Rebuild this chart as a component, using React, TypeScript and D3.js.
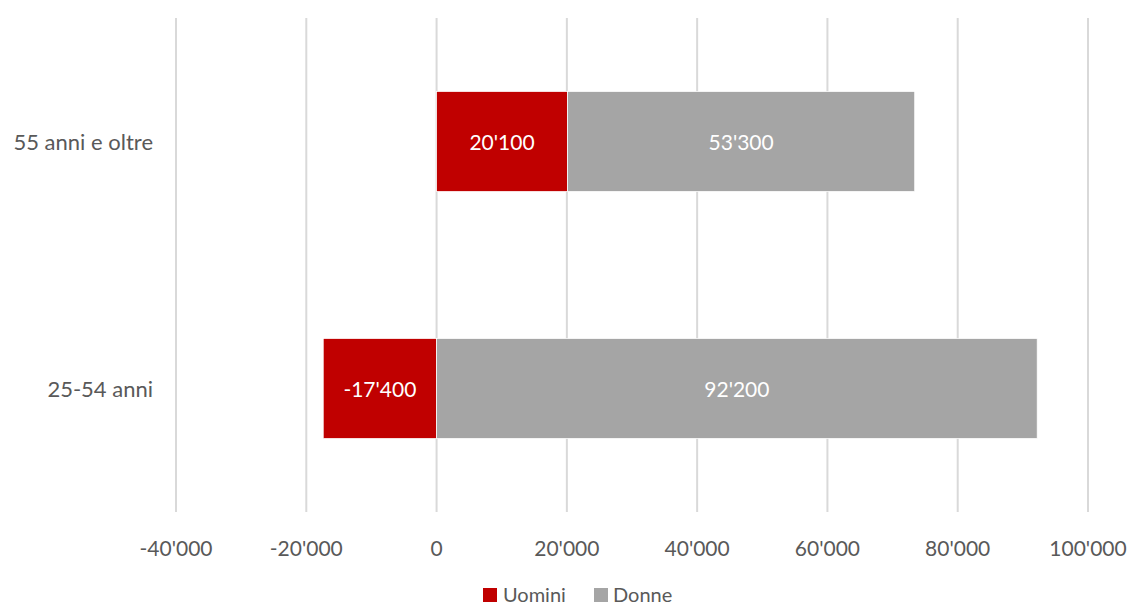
import React from "react";
import * as d3 from "d3";

const categories = ["55 anni e oltre", "25-54 anni"];
const uomini = [20100, -17400];
const donne = [53300, 92200];
const seriesNames = ["Uomini", "Donne"];
const seriesColors = ["#C00000", "#A5A5A5"];
const xTicks = [-40000, -20000, 0, 20000, 40000, 60000, 80000, 100000];

const W = 1129;
const H = 606;
const FONT = "Lato, 'Open Sans', sans-serif";

const fmt = (v: number) => {
  const s = Math.abs(v).toString().replace(/\B(?=(\d{3})+(?!\d))/g, "'");
  return (v < 0 ? "-" : "") + s;
};

export default function App() {
  const rows = categories.map((c, i) => ({ cat: c, Uomini: uomini[i], Donne: donne[i] }));
  const stacked = d3
    .stack<any>()
    .keys(seriesNames)
    .offset(d3.stackOffsetDiverging)(rows);

  const x = d3.scaleLinear().domain([-40000, 100000]).range([176, 1088]);
  const y = d3.scaleBand().domain(categories).range([18, 512]).paddingInner(0.595).paddingOuter(0.2975);

  return (
    <svg width={W} height={H} style={{ position: "absolute", left: 0, top: 0, background: "#fff" }}>
      {xTicks.map((t) => (
        <line key={t} x1={x(t)} x2={x(t)} y1={18} y2={512} stroke="#D9D9D9" strokeWidth={2} />
      ))}
      {stacked.map((s, si) =>
        s.map((d, i) => {
          const x0 = x(Math.min(d[0], d[1]));
          const x1 = x(Math.max(d[0], d[1]));
          const yy = y(categories[i])!;
          const v = si === 0 ? uomini[i] : donne[i];
          return (
            <g key={si + "-" + i}>
              <rect x={x0} y={yy} width={x1 - x0} height={y.bandwidth()} fill={seriesColors[si]} stroke="#fff" strokeWidth={0.75} />
              <text
                x={(x0 + x1) / 2}
                y={yy + y.bandwidth() / 2}
                textAnchor="middle"
                dominantBaseline="central"
                fill="#fff"
                fontFamily={FONT}
                fontSize={21}
              >
                {fmt(v)}
              </text>
            </g>
          );
        })
      )}
      {categories.map((c) => (
        <text
          key={c}
          x={153}
          y={y(c)! + y.bandwidth() / 2}
          textAnchor="end"
          dominantBaseline="central"
          fill="#595959"
          fontFamily={FONT}
          fontSize={22}
        >
          {c}
        </text>
      ))}
      {xTicks.map((t) => (
        <text key={"l" + t} x={x(t)} y={547} textAnchor="middle" dominantBaseline="central" fill="#595959" fontFamily={FONT} fontSize={21}>
          {fmt(t)}
        </text>
      ))}
      <g>
        <rect x={483} y={588} width={14} height={14} fill={seriesColors[0]} />
        <text x={503} y={594} dominantBaseline="central" fill="#595959" fontFamily={FONT} fontSize={20}>
          {seriesNames[0]}
        </text>
        <rect x={594} y={588} width={14} height={14} fill={seriesColors[1]} />
        <text x={613} y={594} dominantBaseline="central" fill="#595959" fontFamily={FONT} fontSize={20}>
          {seriesNames[1]}
        </text>
      </g>
    </svg>
  );
}
